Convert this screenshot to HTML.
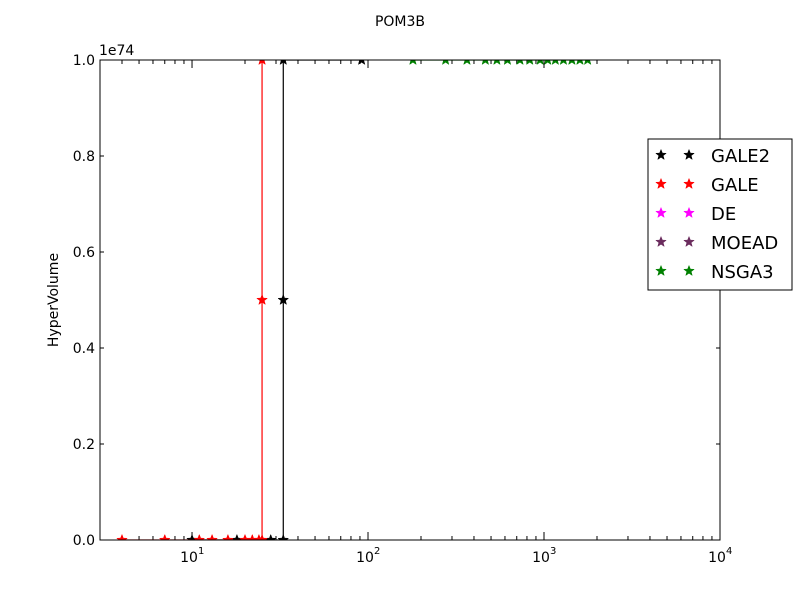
<!DOCTYPE html>
<html><head><meta charset="utf-8"><style>body{margin:0;background:#fff}svg{display:block}text{font-family:"DejaVu Sans","Liberation Sans",sans-serif}</style></head>
<body>
<svg id="c" width="800" height="600"><defs><clipPath id="pa"><rect x="100" y="60" width="620" height="480"/></clipPath></defs></svg>
<script>
const galeX = [4, 7, 11, 13, 16, 20, 22, 24, 25, 25, 25];
const galeY = [0, 0, 0, 0, 0, 0, 0, 0, 0, 0.5, 1.0];
const gale2X = [10, 18, 28, 33, 33, 33, 92];
const gale2Y = [0, 0, 0, 0, 0.5, 1.0, 1.0];
const nsgaX = [180, 276, 365, 464, 540, 620, 730, 830, 950, 1050, 1160, 1290, 1440, 1600, 1770];
const nsgaY = [1, 1, 1, 1, 1, 1, 1, 1, 1, 1, 1, 1, 1, 1, 1];
const yTicks = [0, 0.2, 0.4, 0.6, 0.8, 1.0];
const yTickLabels = ["0.0", "0.2", "0.4", "0.6", "0.8", "1.0"];
const xTicks = [1, 2, 3, 4];
const legendNames = ["GALE2", "GALE", "DE", "MOEAD", "NSGA3"];
const legendColors = ["#000000", "#ff0000", "#ff00ff", "#6b2c5e", "#008000"];

const L=100,R=720,T=60,B=540;
const xmin=Math.log10(3), xmax=4;
const sx=v=>L+(Math.log10(v)-xmin)/(xmax-xmin)*(R-L);
const sy=v=>B-v*(B-T);
const svg=document.getElementById('c');
const NS='http://www.w3.org/2000/svg';
function mk(tag,attrs,parent){const e=document.createElementNS(NS,tag);for(const k in attrs)e.setAttribute(k,attrs[k]);(parent||svg).appendChild(e);return e;}
function star(x,y,r,color,parent){let p=[];for(let i=0;i<10;i++){const a=-Math.PI/2+i*Math.PI/5;const rr=i%2?r*0.42:r;p.push((x+rr*Math.cos(a)).toFixed(1)+','+(y+rr*Math.sin(a)).toFixed(1));}return mk('polygon',{points:p.join(' '),fill:color,stroke:color,'stroke-width':0.5},parent);}

const t=mk('text',{x:400,y:26,'text-anchor':'middle','font-size':14});t.textContent='POM3B';



const ticks=mk('g',{});


yTicks.forEach((v,i)=>{const y=sy(v);
 mk('line',{x1:L,x2:L+4,y1:y,y2:y,stroke:'#000'},ticks);mk('line',{x1:R,x2:R-4,y1:y,y2:y,stroke:'#000'},ticks);
 const tx=mk('text',{x:L-5,y:y+5,'text-anchor':'end','font-size':14},ticks);tx.textContent=yTickLabels[i];
 
 
});
for(let d=0;d<4;d++)for(let m=1;m<10;m++){const v=m*Math.pow(10,d);if(v<3)continue;const x=sx(v);const len=m===1?8:4;
 mk('line',{x1:x,x2:x,y1:B,y2:B-len,stroke:'#000'},ticks);mk('line',{x1:x,x2:x,y1:T,y2:T+len,stroke:'#000'},ticks);}
xTicks.forEach(e=>{const x=sx(Math.pow(10,e));
 const tx=mk('text',{x:x-3,y:562,'text-anchor':'middle','font-size':14},ticks);tx.textContent='10';
 
 
 const sp=mk('text',{x:x+6,y:554,'font-size':10},ticks);sp.textContent=String(e);});
const ex=mk('text',{x:99,y:55,'font-size':14});ex.textContent='1e74';


const yl=mk('text',{x:58,y:300,'text-anchor':'middle','font-size':14,transform:'rotate(-90 58 300)'});yl.textContent='HyperVolume';



function series(xs,ys,color,name){const g=mk('g',{'clip-path':'url(#pa)'});
 
 
 mk('polyline',{points:xs.map((x,i)=>sx(x)+','+sy(ys[i])).join(' '),fill:'none',stroke:color,'stroke-width':1.2},g);
 xs.forEach((x,i)=>star(sx(x),sy(ys[i]),5.5,color,g));}
series(gale2X,gale2Y,'#000','series-gale2');
series(galeX,galeY,'#ff0000','series-gale');
series(nsgaX,nsgaY,'#008000','series-nsga3');

mk('rect',{x:L,y:T,width:R-L,height:B-T,fill:'none',stroke:'#000','stroke-width':1});

const lg=mk('g',{});


mk('rect',{x:648,y:139,width:144,height:151,fill:'#fff',stroke:'#000'},lg);
legendNames.forEach((n,i)=>{const y=155+i*29;const c=legendColors[i];
 const e=mk('g',{},lg);
 
 
 star(661,y,5.5,c,e);star(689,y,5.5,c,e);
 const tx=mk('text',{x:711,y:y+7,'font-size':18},e);tx.textContent=n;});
</script>
</body></html>
